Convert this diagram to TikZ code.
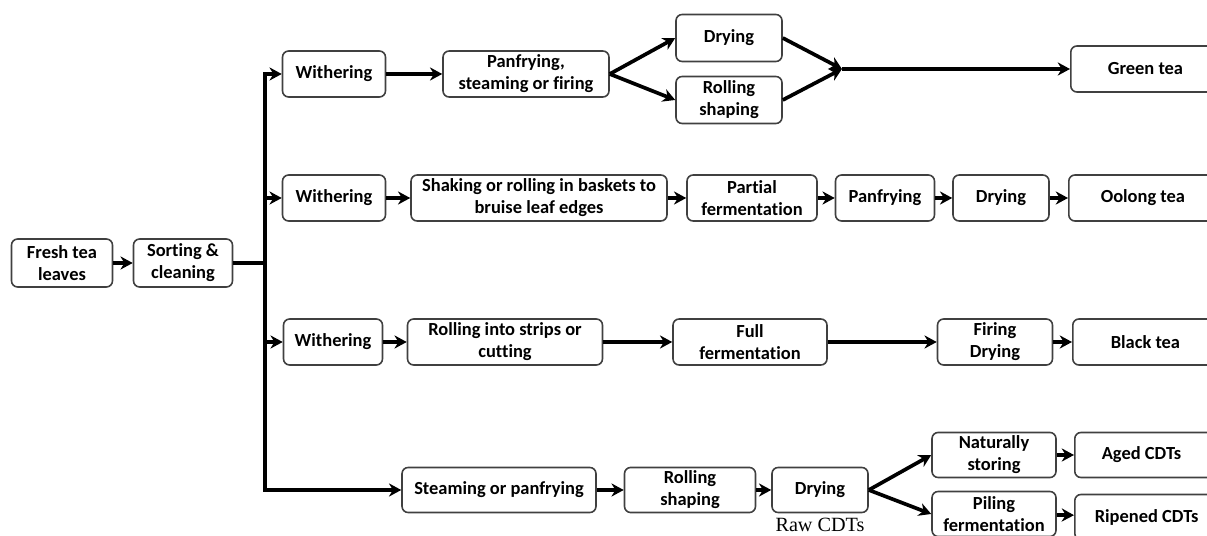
\documentclass[tikz,border=0pt]{standalone}
\usepackage{fontspec}
\setmainfont{Carlito}[Ligatures=CommonOff]
\newfontfamily\rawfont{Liberation Serif}
\usetikzlibrary{positioning,arrows.meta}

\begin{document}
\begin{tikzpicture}[x=0.02cm,y=-0.02cm,
    box/.style={draw=black!75,line width=0.9pt,rounded corners=3.5pt,align=center,
      font=\fontsize{10.5}{12.5}\selectfont\bfseries,minimum height=0.92cm,inner sep=2pt},
    endbox/.style={box,anchor=west,align=flush left,text width=4cm},
    flow/.style={line width=2.1pt,-{Stealth[length=7pt,width=7.5pt]}},
    trunk/.style={line width=2.1pt}]
  \useasboundingbox (0,0) rectangle (1207,536);
  \clip (0,0) rectangle (1207,536);

  % common start
  \node[box,minimum width=2.02cm,minimum height=0.96cm] (fresh) at (62,263) {Fresh tea\\leaves};
  \node[box,minimum width=1.98cm,minimum height=0.96cm] (sort) at (183,263) {Sorting \&\\cleaning};
  \coordinate (split) at (265,263);

  % green tea
  \node[box,minimum width=2.06cm] (with1) at (334,74) {Withering};
  \node[box,minimum width=3.32cm] (pan1) at (526,74) {Panfrying,\\steaming or firing};
  \node[box,minimum width=2.12cm,minimum height=0.94cm] (dry1) at (729,38) {Drying};
  \node[box,minimum width=2.12cm,minimum height=0.94cm] (roll1) at (729,100) {Rolling\\shaping};
  \coordinate (merge) at (842,69);
  \node[endbox,inner xsep=0.74cm] (green) at (1070,69) {Green tea};

  % oolong tea
  \node[box,minimum width=2.06cm] (with2) at (334,198) {Withering};
  \node[box,minimum width=5.12cm] (shake) at (539,198) {Shaking or rolling in baskets to\\bruise leaf edges};
  \node[box,minimum width=2.6cm] (partial) at (752,198) {Partial\\fermentation};
  \node[box,minimum width=1.98cm] (pan2) at (885,198) {Panfrying};
  \node[box,minimum width=1.92cm] (dry2) at (1001,198) {Drying};
  \node[endbox,inner xsep=0.64cm] (oolong) at (1068,198) {Oolong tea};

  % black tea
  \node[box,minimum width=1.98cm] (with3) at (333,342) {Withering};
  \node[box,minimum width=3.9cm] (strips) at (505,342) {Rolling into strips or\\cutting};
  \node[box,minimum width=3.08cm] (full) at (750,342) {Full\\fermentation};
  \node[box,minimum width=2.3cm] (fire) at (995,342) {Firing\\Drying};
  \node[endbox,inner xsep=0.76cm] (black) at (1072,342) {Black tea};

  % dark tea
  \node[box,minimum width=3.88cm,minimum height=0.9cm] (steam) at (499,490) {Steaming or panfrying};
  \node[box,minimum width=2.62cm,minimum height=0.9cm] (roll4) at (690,490) {Rolling\\shaping};
  \node[box,minimum width=1.92cm,minimum height=0.9cm] (dry4) at (820,490) {Drying};
  \node[font=\rawfont\fontsize{11.5}{13}\selectfont,below=-1pt of dry4] (raw) {Raw CDTs};
  \node[box,minimum width=2.48cm,minimum height=0.9cm] (nat) at (994,455) {Naturally\\storing};
  \node[box,minimum width=2.48cm,minimum height=0.9cm] (pile) at (994,514) {Piling\\fermentation};
  \node[endbox,inner xsep=0.54cm,minimum height=0.9cm] (aged) at (1074,455) {Aged CDTs};
  \node[endbox,inner xsep=0.4cm,minimum height=0.9cm] (ripe) at (1074,517) {Ripened CDTs};

  % connectors
  \draw[flow] (fresh) -- (sort);
  \draw[trunk] (sort.east) -- (split);
  \draw[flow] (split) |- (with1);
  \draw[flow] (split) |- (with2);
  \draw[flow] (split) |- (with3);
  \draw[flow] (split) |- (steam);

  \draw[flow] (with1) -- (pan1);
  \draw[flow] (pan1.east) -- (dry1.west);
  \draw[flow] (pan1.east) -- (roll1.west);
  \draw[flow] (dry1.east) -- (merge);
  \draw[flow] (roll1.east) -- (merge);
  \draw[flow] (merge) -- (green);

  \draw[flow] (with2) -- (shake);
  \draw[flow] (shake) -- (partial);
  \draw[flow] (partial) -- (pan2);
  \draw[flow] (pan2) -- (dry2);
  \draw[flow] (dry2) -- (oolong);

  \draw[flow] (with3) -- (strips);
  \draw[flow] (strips) -- (full);
  \draw[flow] (full) -- (fire);
  \draw[flow] (fire) -- (black);

  \draw[flow] (steam) -- (roll4);
  \draw[flow] (roll4) -- (dry4);
  \draw[flow] (dry4.east) -- (nat.west);
  \draw[flow] (dry4.east) -- (pile.west);
  \draw[flow] (nat) -- (aged);
  \draw[flow] (pile) -- (ripe);
\end{tikzpicture}
\end{document}
